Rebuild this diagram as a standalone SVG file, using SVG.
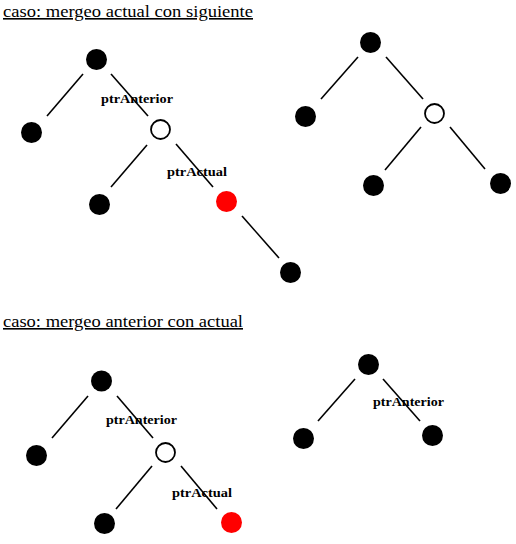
<svg xmlns="http://www.w3.org/2000/svg" width="516" height="544" viewBox="0 0 516 544">
<style>
.title{font-family:"Liberation Serif","Times New Roman",serif;font-size:16px;fill:#000;text-decoration:underline}
.lbl{font-family:"Liberation Serif","Times New Roman",serif;font-size:13px;font-weight:bold;fill:#000}
.edge{stroke:#000;stroke-width:1.6;fill:none}
.blk{fill:#000}
.red{fill:#ff0000}
.hol{fill:#fff;stroke:#000;stroke-width:1.8}
</style>
<rect width="516" height="544" fill="#fff"/>
<text class="title" x="3" y="17" textLength="250" lengthAdjust="spacingAndGlyphs">caso: mergeo actual con siguiente</text>
<text class="title" x="3" y="327" textLength="240" lengthAdjust="spacingAndGlyphs">caso: mergeo anterior con actual</text>
<g id="connectors">
<line class="edge" x1="83" y1="74" x2="47" y2="116"/>
<line class="edge" x1="111" y1="74" x2="148" y2="116"/>
<line class="edge" x1="147" y1="145" x2="111" y2="187"/>
<line class="edge" x1="176" y1="144" x2="213" y2="187"/>
<line class="edge" x1="242" y1="216" x2="279" y2="258"/>
<line class="edge" x1="358" y1="57" x2="321" y2="99"/>
<line class="edge" x1="386" y1="57" x2="423" y2="99"/>
<line class="edge" x1="421" y1="127" x2="385" y2="170"/>
<line class="edge" x1="450" y1="127" x2="485" y2="169"/>
<line class="edge" x1="88" y1="396" x2="52" y2="438"/>
<line class="edge" x1="117" y1="396" x2="153" y2="438"/>
<line class="edge" x1="152" y1="466" x2="116" y2="509"/>
<line class="edge" x1="181" y1="466" x2="217" y2="509"/>
<line class="edge" x1="355" y1="379" x2="318" y2="421"/>
<line class="edge" x1="383" y1="379" x2="420" y2="421"/>
</g>
<g id="t1-root"><circle class="blk" cx="96.5" cy="59.5" r="10.5"/></g>
<g id="t1-left"><circle class="blk" cx="31.5" cy="132.5" r="10.5"/></g>
<g id="t1-prev"><circle class="hol" cx="160.5" cy="129.5" r="9.5"/></g>
<g id="t1-ll"><circle class="blk" cx="99.5" cy="204.5" r="10.5"/></g>
<g id="t1-cur"><circle class="red" cx="226.5" cy="201.5" r="10.5"/></g>
<g id="t1-leaf"><circle class="blk" cx="290.5" cy="272.5" r="10.5"/></g>
<g id="t2-root"><circle class="blk" cx="370.5" cy="42.5" r="10.5"/></g>
<g id="t2-left"><circle class="blk" cx="305.5" cy="116.5" r="10.5"/></g>
<g id="t2-prev"><circle class="hol" cx="434.5" cy="113.5" r="9.5"/></g>
<g id="t2-ll"><circle class="blk" cx="373.5" cy="185.5" r="10.5"/></g>
<g id="t2-lr"><circle class="blk" cx="500.5" cy="183.5" r="10.5"/></g>
<g id="t3-root"><circle class="blk" cx="101.5" cy="381" r="10.5"/></g>
<g id="t3-left"><circle class="blk" cx="36.5" cy="455.5" r="10.5"/></g>
<g id="t3-prev"><circle class="hol" cx="165.5" cy="452.5" r="9.5"/></g>
<g id="t3-ll"><circle class="blk" cx="104.5" cy="523.5" r="10.5"/></g>
<g id="t3-cur"><circle class="red" cx="231.5" cy="522.5" r="10.5"/></g>
<g id="t4-root"><circle class="blk" cx="368.5" cy="364.5" r="10.5"/></g>
<g id="t4-left"><circle class="blk" cx="303.5" cy="438.5" r="10.5"/></g>
<g id="t4-right"><circle class="blk" cx="432.5" cy="435.5" r="10.5"/></g>
<g id="labels">
<text class="lbl" x="101" y="103" textLength="72" lengthAdjust="spacingAndGlyphs">ptrAnterior</text>
<text class="lbl" x="167" y="176" textLength="60" lengthAdjust="spacingAndGlyphs">ptrActual</text>
<text class="lbl" x="106" y="424" textLength="71" lengthAdjust="spacingAndGlyphs">ptrAnterior</text>
<text class="lbl" x="172" y="497" textLength="60" lengthAdjust="spacingAndGlyphs">ptrActual</text>
<text class="lbl" x="373" y="406" textLength="71" lengthAdjust="spacingAndGlyphs">ptrAnterior</text>
</g>
</svg>
